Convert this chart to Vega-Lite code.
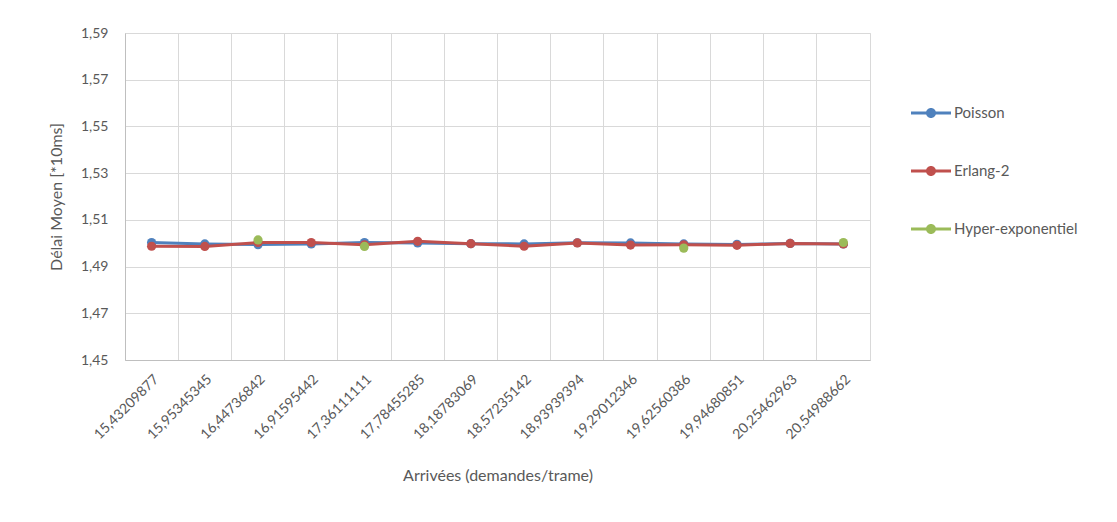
{
  "$schema": "https://vega.github.io/schema/vega-lite/v6.json",
  "autosize": {"type": "none"},
  "padding": {"left": 125, "top": 33, "right": 247, "bottom": 162},
  "width": 745,
  "height": 327,
  "background": "white",
  "config": {
    "font": "Lato",
    "view": {"stroke": "#d9d9d9", "strokeWidth": 1},
    "axis": {"labelColor": "#595959", "titleColor": "#595959", "labelFont": "Lato", "titleFont": "Lato", "titleFontWeight": "normal", "labelFontSize": 14, "titleFontSize": 16}
  },
  "data": {"values": [
    {"x": "15,43209877", "series": "Poisson", "v": 1.5003},
    {"x": "15,95345345", "series": "Poisson", "v": 1.4997},
    {"x": "16,44736842", "series": "Poisson", "v": 1.4994},
    {"x": "16,91595442", "series": "Poisson", "v": 1.4997},
    {"x": "17,36111111", "series": "Poisson", "v": 1.5003},
    {"x": "17,78455285", "series": "Poisson", "v": 1.5001},
    {"x": "18,18783069", "series": "Poisson", "v": 1.4998},
    {"x": "18,57235142", "series": "Poisson", "v": 1.4997},
    {"x": "18,93939394", "series": "Poisson", "v": 1.5002},
    {"x": "19,29012346", "series": "Poisson", "v": 1.5001},
    {"x": "19,62560386", "series": "Poisson", "v": 1.4997},
    {"x": "19,94680851", "series": "Poisson", "v": 1.4995},
    {"x": "20,25462963", "series": "Poisson", "v": 1.4999},
    {"x": "20,54988662", "series": "Poisson", "v": 1.4997},
    {"x": "15,43209877", "series": "Erlang-2", "v": 1.4987},
    {"x": "15,95345345", "series": "Erlang-2", "v": 1.4986},
    {"x": "16,44736842", "series": "Erlang-2", "v": 1.5003},
    {"x": "16,91595442", "series": "Erlang-2", "v": 1.5003},
    {"x": "17,36111111", "series": "Erlang-2", "v": 1.4993},
    {"x": "17,78455285", "series": "Erlang-2", "v": 1.5008},
    {"x": "18,18783069", "series": "Erlang-2", "v": 1.4998},
    {"x": "18,57235142", "series": "Erlang-2", "v": 1.4987},
    {"x": "18,93939394", "series": "Erlang-2", "v": 1.5001},
    {"x": "19,29012346", "series": "Erlang-2", "v": 1.4992},
    {"x": "19,62560386", "series": "Erlang-2", "v": 1.4993},
    {"x": "19,94680851", "series": "Erlang-2", "v": 1.4991},
    {"x": "20,25462963", "series": "Erlang-2", "v": 1.4999},
    {"x": "20,54988662", "series": "Erlang-2", "v": 1.4997},
    {"x": "16,44736842", "series": "Hyper-exponentiel", "v": 1.5014},
    {"x": "17,36111111", "series": "Hyper-exponentiel", "v": 1.4986},
    {"x": "19,62560386", "series": "Hyper-exponentiel", "v": 1.4979},
    {"x": "20,54988662", "series": "Hyper-exponentiel", "v": 1.5003}
  ]},
  "encoding": {
    "x": {"field": "x", "type": "ordinal", "sort": null, "scale": {"type": "band", "paddingInner": 0, "paddingOuter": 0}},
    "y": {"field": "v", "type": "quantitative", "scale": {"domain": [1.45, 1.59], "nice": false, "zero": false}},
    "color": {"field": "series", "type": "nominal",
      "scale": {"domain": ["Poisson", "Erlang-2", "Hyper-exponentiel"], "range": ["#4f81bd", "#c0504d", "#9bbb59"]},
      "legend": {"title": null, "orient": "none", "legendX": 786, "legendY": 60,
        "symbolType": "M-1,-0.07H1V0.07H-1Z M-0.25,0A0.25,0.25 0 1,1 0.25,0A0.25,0.25 0 1,1 -0.25,0Z",
        "symbolSize": 1600, "symbolStrokeWidth": 0, "symbolOpacity": 1,
        "labelFontSize": 15, "labelColor": "#595959", "labelFont": "Lato", "rowPadding": 30, "labelOffset": 3}}
  },
  "layer": [
    {
      "transform": [{"filter": "datum.series === 'Poisson'"}],
      "mark": {"type": "line", "strokeWidth": 3},
      "encoding": {
        "x": {"field": "x", "type": "ordinal", "sort": null, "scale": {"type": "band", "paddingInner": 0, "paddingOuter": 0},
          "axis": {"orient": "bottom", "grid": true, "gridColor": "#d9d9d9", "bandPosition": 0, "labels": false, "ticks": false, "domainColor": "#bfbfbf", "title": null}},
        "y": {"field": "v", "type": "quantitative", "title": "Délai Moyen  [*10ms]",
          "axis": {"values": [1.45, 1.47, 1.49, 1.51, 1.53, 1.55, 1.57, 1.59], "labelExpr": "replace(format(datum.value, '.2f'), '.', ',')", "grid": true, "gridColor": "#d9d9d9", "ticks": false, "domain": true, "domainColor": "#bfbfbf", "labelFontSize": 14, "labelPadding": 17, "titleFontSize": 16, "titlePadding": 16}}
      }
    },
    {
      "transform": [{"filter": "datum.series === 'Poisson'"}],
      "mark": {"type": "point", "filled": true, "size": 85, "opacity": 1},
      "encoding": {
        "x": {"field": "x", "type": "ordinal", "sort": null,
          "axis": {"orient": "bottom", "grid": false, "ticks": false, "domain": false, "labelAngle": -45, "labelFontSize": 14, "labelPadding": 12, "title": "Arrivées (demandes/trame)", "titleFontSize": 16, "titlePadding": 26}}
      }
    },
    {
      "transform": [{"filter": "datum.series === 'Erlang-2'"}],
      "mark": {"type": "line", "strokeWidth": 3},
      "encoding": {"x": {"field": "x", "type": "ordinal", "sort": null, "axis": null}}
    },
    {
      "transform": [{"filter": "datum.series === 'Erlang-2'"}],
      "mark": {"type": "point", "filled": true, "size": 85, "opacity": 1},
      "encoding": {"x": {"field": "x", "type": "ordinal", "sort": null, "axis": null}}
    },
    {
      "transform": [{"filter": "datum.series === 'Hyper-exponentiel'"}],
      "mark": {"type": "point", "filled": true, "size": 85, "opacity": 1},
      "encoding": {"x": {"field": "x", "type": "ordinal", "sort": null, "axis": null}}
    }
  ],
  "resolve": {"axis": {"x": "independent"}}
}
